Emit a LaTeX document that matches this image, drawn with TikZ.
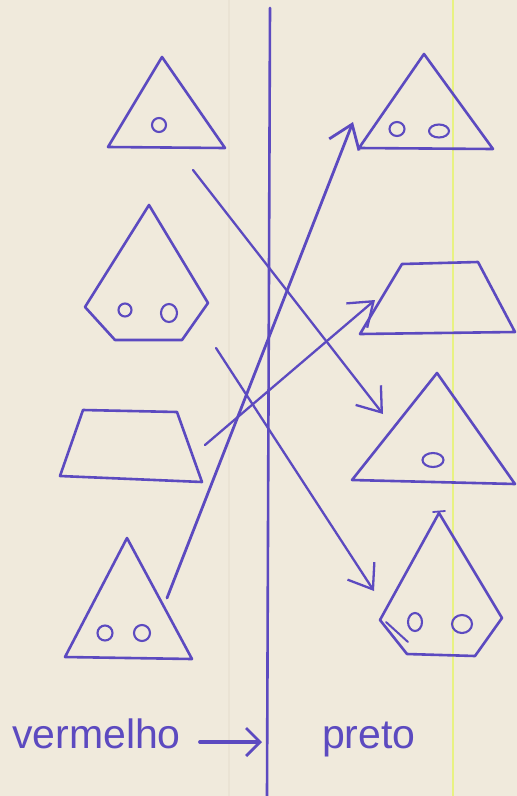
\documentclass[tikz,border=0pt]{standalone}
\usepackage{fontspec}
\setmainfont{Liberation Sans}
\usetikzlibrary{arrows.meta}
\definecolor{ink}{RGB}{92,74,192}
\definecolor{paper}{RGB}{240,234,220}
\definecolor{hl}{RGB}{232,242,130}
\definecolor{fold}{RGB}{234,227,212}
\begin{document}
\begin{tikzpicture}[x=1pt,y=-1pt,
  pen/.style={draw=ink,line width=2.6pt,line join=round,line cap=round},
  hole/.style={pen,line width=2.1pt},
  arr/.style={pen,line width=2.3pt,-{Straight Barb[length=22pt,width=32pt]}},
  lbl/.style={text=ink,font=\fontsize{41}{43}\selectfont,inner sep=0pt,anchor=base west}]
\fill[paper] (0,0) rectangle (517,796);
\useasboundingbox (0,0) rectangle (517,796);
% paper marks
\draw[fold,line width=1.5pt] (229,0) -- (229,796);
\draw[hl,line width=1.6pt] (453,0) -- (453,796);
% dividing line
\coordinate (divtop) at (270,8);
\coordinate (divbot) at (267,796);
\draw[pen] (divtop) -- (divbot);
% ---- left column ----
% triangle with one hole
\draw[pen] (162,57) -- (225,148) -- (108,147) -- cycle;
\draw[hole] (159,125) circle[radius=7pt];
% pentagon with two holes
\draw[pen] (149,205) -- (208,303) -- (182,340) -- (115,340) -- (85,307) -- cycle;
\draw[hole] (125,310) circle[radius=6.5pt];
\draw[hole] (169,313) ellipse[x radius=8pt,y radius=9pt];
% trapezoid
\draw[pen] (83,410) -- (177,412) -- (202,482) -- (60,476) -- cycle;
% triangle with two holes
\draw[pen] (127,538) -- (192,659) -- (65,657) -- cycle;
\draw[hole] (105,633) circle[radius=7.5pt];
\draw[hole] (142,633) circle[radius=8pt];
% ---- right column ----
% triangle with two holes
\draw[pen] (424,54) -- (493,149) -- (359,148) -- cycle;
\draw[hole] (397,129) ellipse[x radius=7.5pt,y radius=7pt];
\draw[hole] (439,131) ellipse[x radius=10pt,y radius=6.5pt];
% trapezoid
\draw[pen] (402,264) -- (478,262) -- (515,332) -- (360,334) -- cycle;
% triangle with one hole
\draw[pen] (437,373) -- (515,484) -- (352,480) -- cycle;
\draw[hole] (433,460) ellipse[x radius=10.5pt,y radius=7pt];
% pentagon with two holes
\draw[pen] (439,513) -- (502,618) -- (475,656) -- (407,654) -- (380,620) -- cycle;
\draw[pen,line width=1.8pt] (433,512) -- (445,511);
\draw[pen,line width=2pt] (386,622) -- (408,642);
\draw[hole] (415,622) ellipse[x radius=7pt,y radius=9pt];
\draw[hole] (462,624) ellipse[x radius=10pt,y radius=9pt];
% ---- matching arrows ----
\coordinate (a1) at (193,170);  \coordinate (a2) at (383,414);
\coordinate (b1) at (167,598);  \coordinate (b2) at (353,122);
\coordinate (c1) at (205,445);  \coordinate (c2) at (375,300);
\coordinate (d1) at (216,348);  \coordinate (d2) at (374,591);
\draw[arr] (a1) -- (a2);
\draw[arr,line width=2.8pt] (b1) -- (b2);
\draw[arr] (c1) -- (c2);
\draw[arr] (d1) -- (d2);
% ---- labels ----
\node[lbl] (verm) at (12,748) {vermelho};
\node[lbl] (preto) at (322,748) {preto};
\coordinate (v1) at (200,742);
\coordinate (v2) at (262,742);
\draw[pen,line width=3.8pt,-{Straight Barb[length=14pt,width=28pt,line width=2.8pt]}] (v1) -- (v2);
\end{tikzpicture}
\end{document}
